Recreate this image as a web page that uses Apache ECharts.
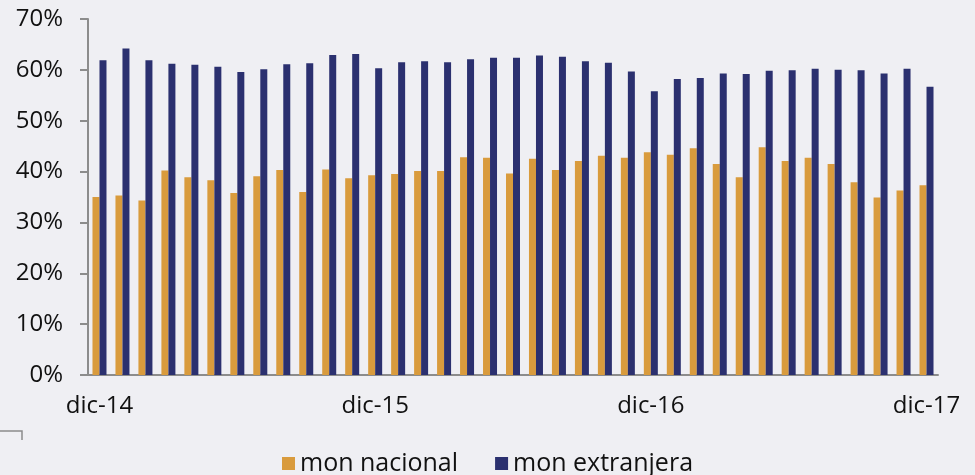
<!DOCTYPE html>
<html lang="es">
<head>
    <meta charset="UTF-8">
    <title>mon nacional / mon extranjera</title>
    <style>
        html, body { margin: 0; padding: 0; background: #efeff3; }
        #main { width: 975px; height: 475px; }
    </style>
    <script src="https://cdn.jsdelivr.net/npm/echarts@6/dist/echarts.min.js"></script>
</head>
<body>
<div id="main"></div>
<script>
    // meses dic-14 .. dic-17
    var meses = ['dic-14', 'ene-15', 'feb-15', 'mar-15', 'abr-15', 'may-15', 'jun-15', 'jul-15', 'ago-15', 'sep-15', 'oct-15', 'nov-15',
        'dic-15', 'ene-16', 'feb-16', 'mar-16', 'abr-16', 'may-16', 'jun-16', 'jul-16', 'ago-16', 'sep-16', 'oct-16', 'nov-16',
        'dic-16', 'ene-17', 'feb-17', 'mar-17', 'abr-17', 'may-17', 'jun-17', 'jul-17', 'ago-17', 'sep-17', 'oct-17', 'nov-17',
        'dic-17'];
    var nacional = [35.0, 35.3, 34.3, 40.2, 38.9, 38.3, 35.8, 39.1, 40.3, 36.0, 40.4, 38.7,
        39.3, 39.5, 40.1, 40.1, 42.8, 42.7, 39.6, 42.5, 40.3, 42.1, 43.1, 42.7,
        43.8, 43.3, 44.6, 41.5, 38.9, 44.8, 42.1, 42.7, 41.5, 37.9, 34.9, 36.3,
        37.3];
    var extranjera = [61.9, 64.2, 61.9, 61.2, 61.0, 60.6, 59.6, 60.1, 61.1, 61.3, 62.9, 63.1,
        60.3, 61.5, 61.7, 61.5, 62.1, 62.4, 62.4, 62.8, 62.6, 61.7, 61.4, 59.7,
        55.8, 58.2, 58.4, 59.3, 59.2, 59.8, 59.9, 60.2, 60.0, 59.9, 59.3, 60.2,
        56.7];
    var yTicks = [0, 10, 20, 30, 40, 50, 60, 70];

    var chart = echarts.init(document.getElementById('main'));
    var font = '"Open Sans", "Noto Sans", sans-serif';
    var option = {
        backgroundColor: '#efeff3',
        animation: false,
        textStyle: { fontFamily: font },
        grid: { left: 88, right: 37, top: 19, bottom: 100 },
        legend: {
            top: 446,
            left: 'center',
            itemWidth: 13,
            itemHeight: 13,
            itemGap: 37,
            icon: 'rect',
            textStyle: { fontSize: 25, color: '#111', fontFamily: font },
            data: ['mon nacional', 'mon extranjera']
        },
        xAxis: {
            type: 'category',
            data: meses,
            boundaryGap: true,
            axisLine: { lineStyle: { color: '#8c8c8c', width: 2 } },
            axisTick: { interval: 11, length: 8, lineStyle: { color: '#8c8c8c', width: 2 } },
            axisLabel: { interval: 11, margin: 19, fontSize: 24, color: '#111', fontFamily: font }
        },
        yAxis: {
            type: 'value',
            min: yTicks[0],
            max: yTicks[yTicks.length - 1],
            interval: 10,
            splitLine: { show: false },
            axisLine: { show: true, lineStyle: { color: '#8c8c8c', width: 2 } },
            axisTick: { show: true, length: 8, lineStyle: { color: '#8c8c8c', width: 2 } },
            axisLabel: { margin: 25, fontSize: 24, color: '#111', fontFamily: font, formatter: '{value}%' }
        },
        series: [
            {
                name: 'mon nacional',
                type: 'bar',
                data: nacional,
                barWidth: 7,
                barGap: '0%',
                itemStyle: { color: '#d99b3d' }
            },
            {
                name: 'mon extranjera',
                type: 'bar',
                data: extranjera,
                barWidth: 7,
                barGap: '0%',
                itemStyle: { color: '#2b306f' }
            }
        ],
        graphic: [
            {
                type: 'polyline',
                shape: { points: [[0, 431], [22, 431], [22, 440]] },
                style: { stroke: '#8c8c8c', lineWidth: 1.5, fill: null }
            }
        ]
    };
    chart.setOption(option);
</script>
</body>
</html>
